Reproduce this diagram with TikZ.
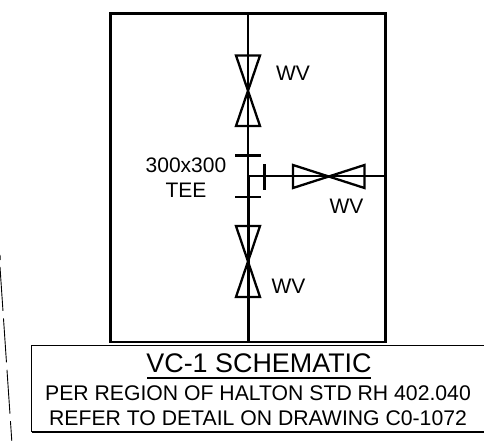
\documentclass[tikz,border=0pt]{standalone}
\usepackage{fontspec}
\setmainfont{Liberation Sans}
\tikzset{
  x=1pt,y=-1pt,
  heavy/.style={line width=2.6pt,black},
  medium/.style={line width=2.3pt,black},
  lbl/.style={inner sep=0pt,font=\fontsize{21}{21}\selectfont},
  titletxt/.style={inner sep=0pt,font=\fontsize{26.9}{26.9}\selectfont},
  subtxt/.style={inner sep=0pt,font=\fontsize{21.2}{21.2}\selectfont},
  refline/.style={line width=0.9pt,black,dash pattern=on 44pt off 7.5pt},
}
\begin{document}
\begin{tikzpicture}
\useasboundingbox (0,0) rectangle (484,441);
\coordinate (tl) at (110.5,13.5);
\coordinate (br) at (385.5,342);
\coordinate (top) at (248,13.5);
\coordinate (bot) at (248,342);
\coordinate (tee) at (248,176);
\coordinate (east) at (385.5,176);
\draw[heavy] (tl) rectangle (br);
\draw[heavy] (top) -- (tee);
\draw[line width=3pt] (tee) -- (bot);
\draw[medium] (tee) -- (east);
% upper valve
\draw[medium,line join=miter] (236,55.5) -- (260,55.5) -- (236,126) -- (260,126) -- cycle;
% lower valve
\draw[medium,line join=miter] (236,226) -- (260,226) -- (236,297) -- (260,297) -- cycle;
% east valve
\draw[medium,line join=miter] (293,165) -- (293,188) -- (364.5,165) -- (364.5,188) -- cycle;
% flanges
\draw[medium] (235,155.5) -- (261,155.5);
\draw[medium] (235,197) -- (261,197);
\draw[medium] (264.5,164) -- (264.5,189.5);
% labels
\node[lbl] (wv1) at (293,73.5) {WV};
\node[lbl] (wv2) at (346.5,206.5) {WV};
\node[lbl] (wv3) at (288.5,286) {WV};
\node[lbl] (tee1) at (186,165) {300x300};
\node[lbl] (tee2) at (186,190) {TEE};
% title
\draw[line width=1.4pt] (31.5,432) -- (31.5,345.5) -- (486,345.5) (31.5,432) -- (486,432);
\node[titletxt] (t1) at (259,363.5) {VC-1 SCHEMATIC};
\draw[line width=1.4pt] (147,378) -- (371,378);
\node[subtxt] (t2) at (258,393) {PER REGION OF HALTON STD RH 402.040};
\node[subtxt] (t3) at (258,418.5) {REFER TO DETAIL ON DRAWING C0-1072};
% left reference line
\draw[refline] (0,267) -- (11.8,441);
\draw[line width=0.9pt] (0,255) -- (0.3,260);
\end{tikzpicture}
\end{document}
